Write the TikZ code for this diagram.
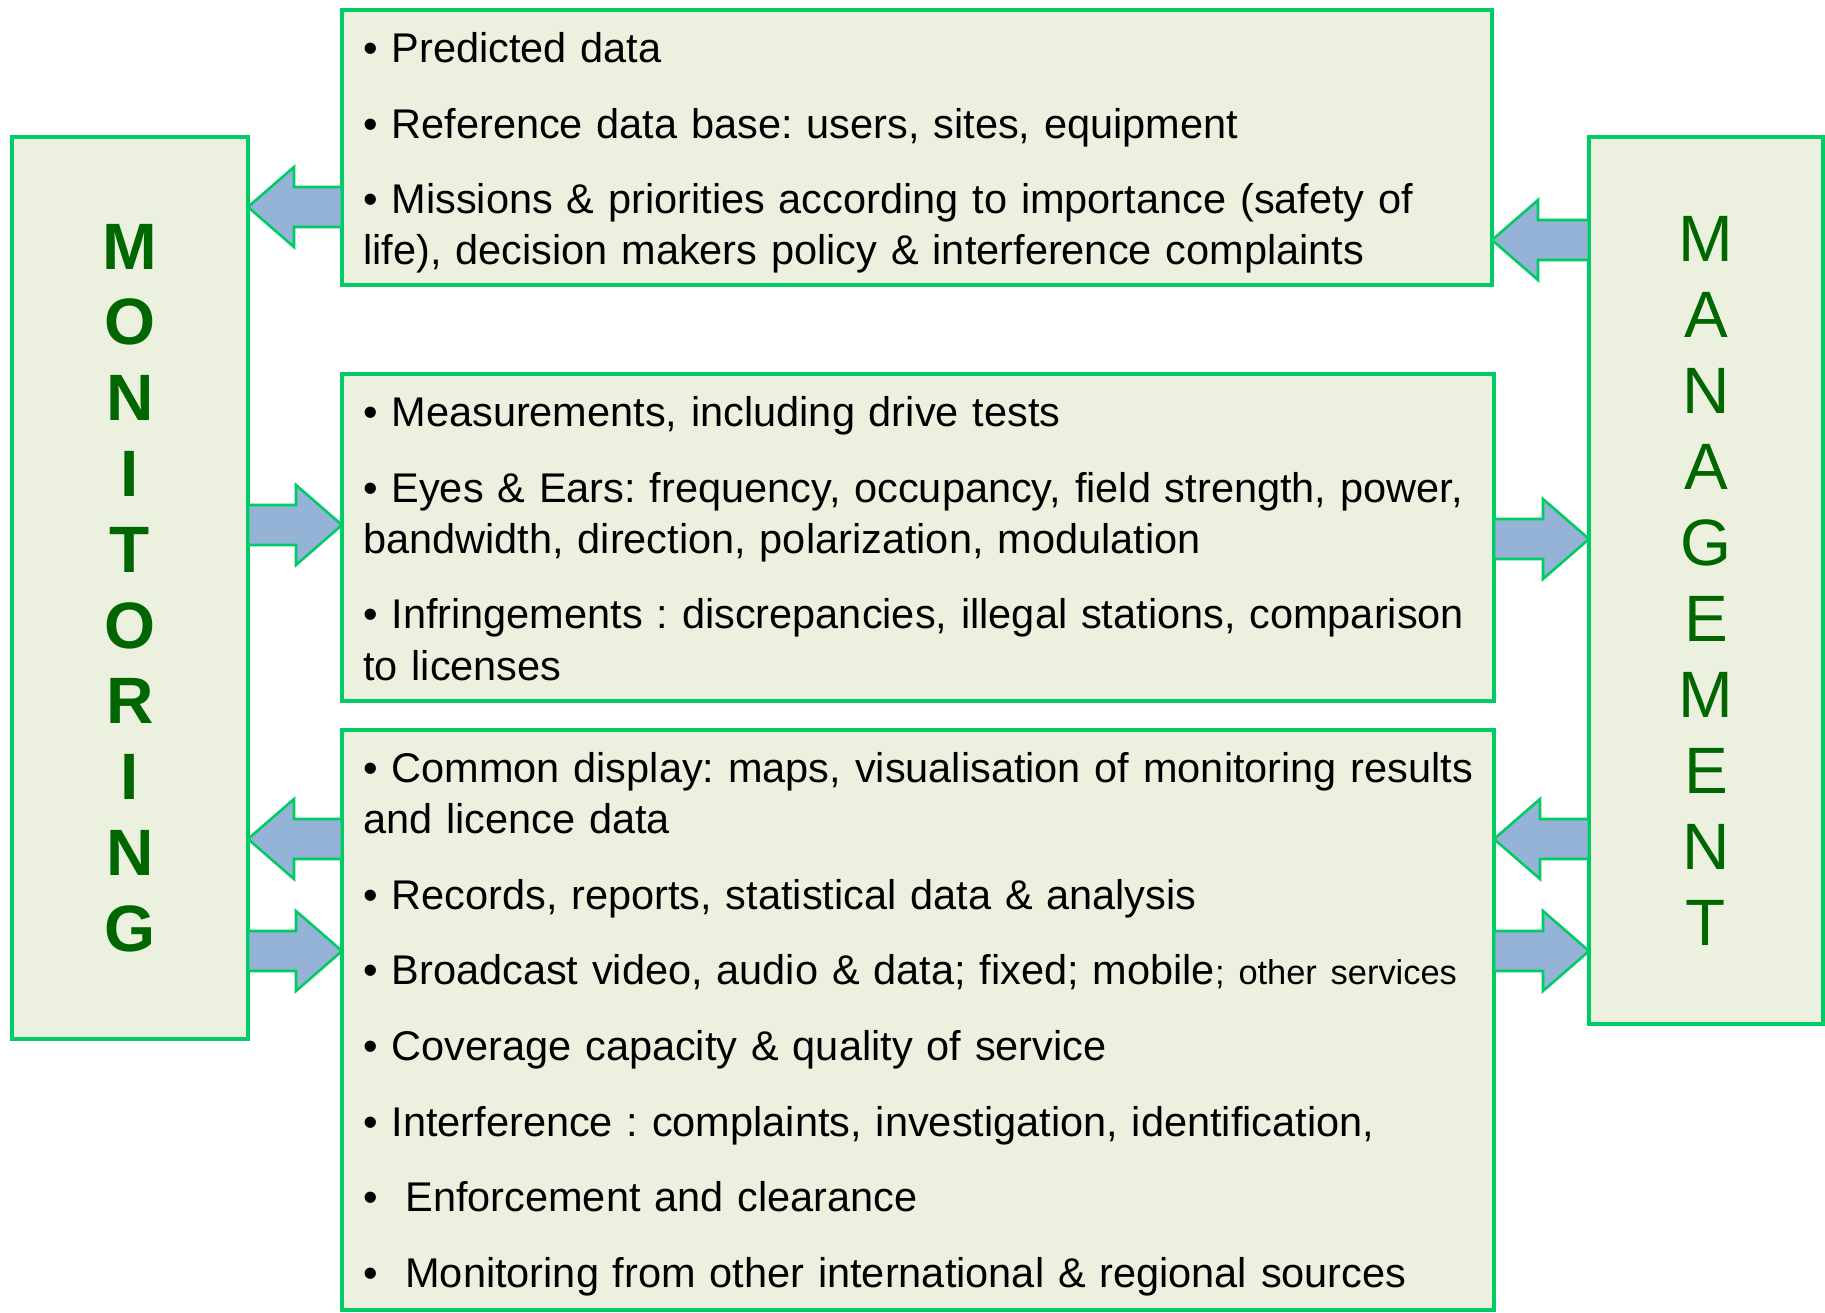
\documentclass[tikz,border=0pt]{standalone}
\usepackage{fontspec}
\setmainfont{Liberation Sans}
\usetikzlibrary{calc}
\frenchspacing

\definecolor{panelfill}{RGB}{235,241,222}
\definecolor{panelline}{RGB}{0,204,102}
\definecolor{arrowfill}{RGB}{149,179,215}
\definecolor{lettergreen}{RGB}{0,102,0}

\tikzset{
  panel/.style={draw=panelline, fill=panelfill, line width=1.65pt, outer sep=0pt, inner sep=0pt},
  items/.style={anchor=north west, inner sep=0pt, text width=600pt, align=left,
    font=\fontsize{20.75}{25.6}\selectfont\frenchspacing},
  column/.style={align=center, text=lettergreen, inner sep=0pt},
  blockarrow/.style={draw=panelline, fill=arrowfill, line width=1.3pt},
}

% fat arrow: #1 tip, #2 tail, #3 = 1 points left, -1 points right
\newcommand\fatarrow[3]{%
  \draw[blockarrow] (#1) -- ++({#3*23},-20) -- ++(0,10) -| ($(#2)+(0,10)$)
    -- ($(#1)+({#3*23},10)$) -- ++(0,10) -- cycle;}

\begin{document}
\begin{tikzpicture}[x=1pt, y=-1pt]
  \useasboundingbox (0,0) rectangle (912.5,656);

  % side blocks
  \node[panel, minimum width=118pt, minimum height=451pt] (mon) at (65,294) {};
  \node[panel, minimum width=117pt, minimum height=443.5pt] (man) at (853,290.25) {};
  \node[column, font=\fontsize{32.8}{37.9}\selectfont\bfseries] (montext) at (mon)
    {M\\O\\N\\I\\T\\O\\R\\I\\N\\G};
  \node[column, font=\fontsize{32.8}{38}\selectfont] (mantext) at (man)
    {M\\A\\N\\A\\G\\E\\M\\E\\N\\T};

  % middle panels
  \node[panel, minimum width=575pt, minimum height=137.5pt] (data) at (458.5,73.75) {};
  \node[panel, minimum width=576pt, minimum height=163.5pt] (meas) at (459,268.75) {};
  \node[panel, minimum width=576pt, minimum height=290pt] (results) at (459,510) {};

  \node[items] (datatext) at ($(data.north west)+(10.4,8.1)$) {\strut• Predicted data\\[12.2pt]
    • Reference data base: users, sites, equipment\\[12.2pt]
    • Missions \& priorities according to importance (safety of\\
    life), decision makers policy \& interference complaints};

  \node[items] (meastext) at ($(meas.north west)+(10.4,8.1)$) {\strut• Measurements, including drive tests\\[12.2pt]
    • Eyes \& Ears: frequency, occupancy, field strength, power,\\
    bandwidth, direction, polarization, modulation\\[12.2pt]
    • Infringements : discrepancies, illegal stations, comparison\\
    to licenses};

  \node[items] (resultstext) at ($(results.north west)+(10.4,8.1)$) {\strut• Common display: maps, visualisation of monitoring results\\
    and licence data\\[12.2pt]
    • Records, reports, statistical data \& analysis\\[12.2pt]
    • Broadcast video, audio \& data; fixed; mobile{\fontsize{17.2}{19}\selectfont; other services}\\[12.2pt]
    • Coverage capacity \& quality of service\\[12.2pt]
    • Interference : complaints, investigation, identification,\\[12.2pt]
    •\ \ Enforcement and clearance\\[12.2pt]
    •\ \ Monitoring from other international \& regional sources};

  % arrows
  \fatarrow{mon.east |- 0,103.5}{data.west |- 0,103.5}{1}
  \fatarrow{data.east |- 0,120}{man.west |- 0,120}{1}
  \fatarrow{meas.west |- 0,262.5}{mon.east |- 0,262.5}{-1}
  \fatarrow{man.west |- 0,269.5}{meas.east |- 0,269.5}{-1}
  \fatarrow{mon.east |- 0,419.5}{results.west |- 0,419.5}{1}
  \fatarrow{results.east |- 0,419.5}{man.west |- 0,419.5}{1}
  \fatarrow{results.west |- 0,475.5}{mon.east |- 0,475.5}{-1}
  \fatarrow{man.west |- 0,475.5}{results.east |- 0,475.5}{-1}
\end{tikzpicture}
\end{document}
